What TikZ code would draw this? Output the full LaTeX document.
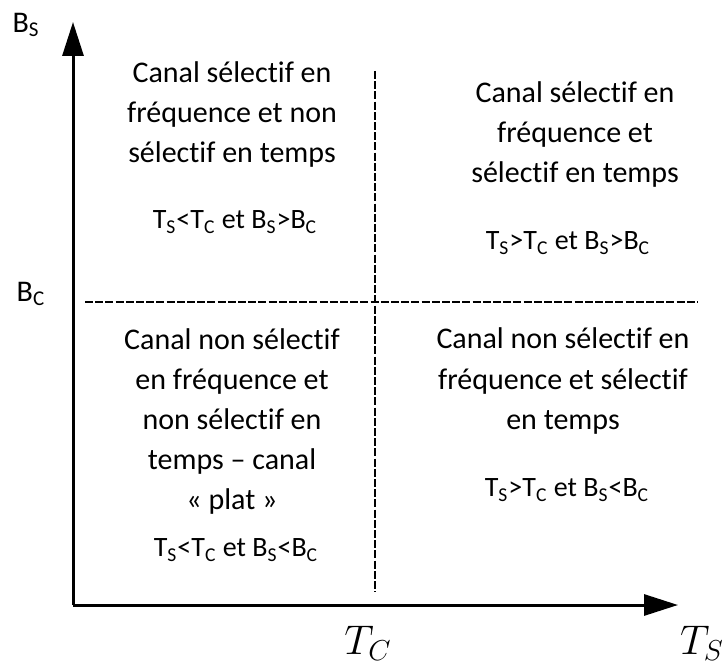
\documentclass[tikz,border=0pt]{standalone}
\usepackage{fontspec}
\setmainfont{Carlito}[Ligatures=NoCommon]
\usepackage{amsmath}
\usetikzlibrary{positioning, arrows.meta}

\begin{document}
\begin{tikzpicture}[
      x=0.5pt, y=-0.5pt,
      >={Triangle[length=17pt, width=10.5pt]},
      axis/.style={line width=1.5pt, ->},
      limit/.style={line width=1.4pt, dash pattern=on 4pt off 1.1pt},
      quadtext/.style={align=center, inner sep=0pt,
        font=\fontsize{15}{20}\selectfont},
      condition/.style={inner sep=0pt, font=\fontsize{14}{16}\selectfont},
      axislabel/.style={inner sep=0pt, font=\fontsize{15}{18}\selectfont},
      mathlabel/.style={inner sep=0pt, font=\fontsize{20}{24}\selectfont},
    ]
      \useasboundingbox (0,0) rectangle (722,668);

      % axes
      \coordinate (origin) at (73,605);
      \coordinate (ytip) at (73,22);
      \coordinate (xtip) at (678,605);
      \draw[axis] (origin) -- (ytip);
      \draw[axis] (origin) -- (xtip);

      % axis labels
      \node[axislabel] (bs) at (26,25) {B\textsubscript{S}};
      \node[axislabel] (bc) at (31,294) {B\textsubscript{C}};
      \node[mathlabel] (tc) at (368,643) {$T_C$};
      \node[mathlabel] (ts) at (702,643) {$T_S$};

      % limits
      \coordinate (hleft) at (85,302);
      \coordinate (hright) at (698,302);
      \coordinate (vtop) at (375,71);
      \coordinate (vbottom) at (375,592);
      \draw[limit] (hleft) -- (hright);
      \draw[limit] (vtop) -- (vbottom);

      % quadrants
      \node[quadtext] (q1) at (232,115)
        {Canal sélectif en\\fréquence et non\\sélectif en temps};
      \node[condition] (c1) at (235,222)
        {T\textsubscript{S}<T\textsubscript{C} et B\textsubscript{S}>B\textsubscript{C}};

      \node[quadtext] (q2) at (575,135)
        {Canal sélectif en\\fréquence et\\sélectif en temps};
      \node[condition] (c2) at (568,243)
        {T\textsubscript{S}>T\textsubscript{C} et B\textsubscript{S}>B\textsubscript{C}};

      \node[quadtext] (q3) at (232,421)
        {Canal non sélectif\\en fréquence et\\non sélectif en\\temps – canal\\«~plat~»};
      \node[condition] (c3) at (236,550)
        {T\textsubscript{S}<T\textsubscript{C} et B\textsubscript{S}<B\textsubscript{C}};

      \node[quadtext] (q4) at (563,381)
        {Canal non sélectif en\\fréquence et sélectif\\en temps};
      \node[condition] (c4) at (567,490)
        {T\textsubscript{S}>T\textsubscript{C} et B\textsubscript{S}<B\textsubscript{C}};
\end{tikzpicture}
\end{document}
